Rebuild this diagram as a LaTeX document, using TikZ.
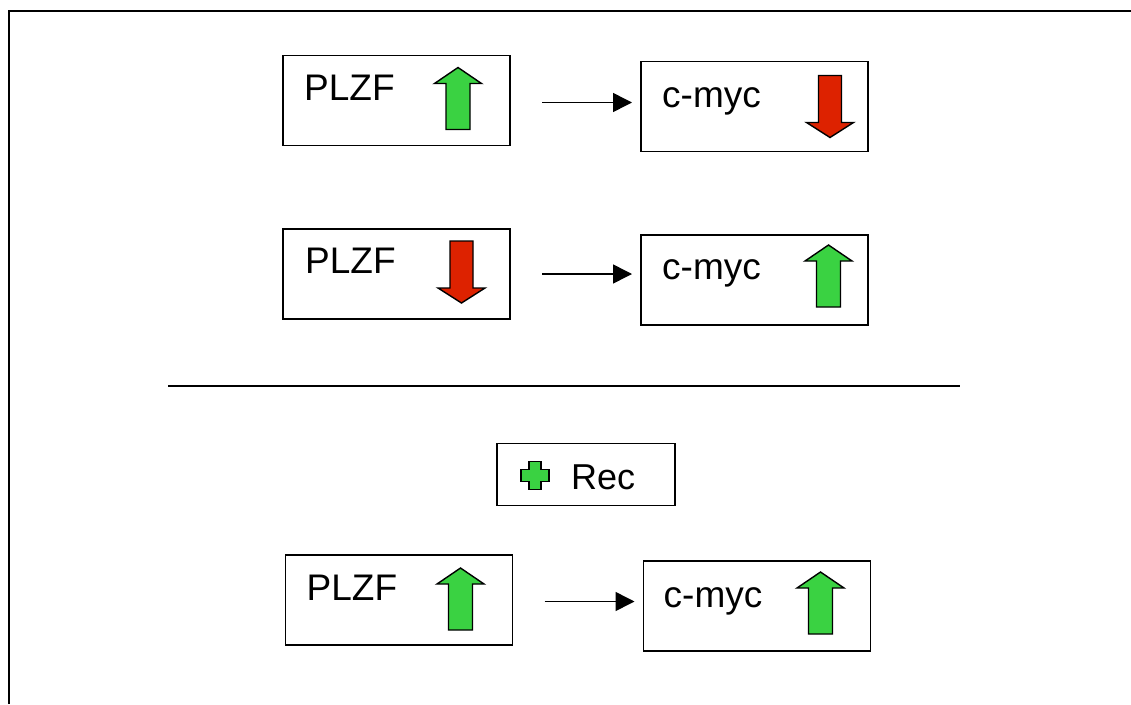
\documentclass[tikz,border=0pt]{standalone}
\usepackage{fontspec}
\setmainfont{Liberation Sans}
\usetikzlibrary{arrows.meta,calc}
\definecolor{upgreen}{RGB}{58,210,66}
\definecolor{downred}{RGB}{221,34,0}
\tikzset{
  box/.style={draw, line width=1.8pt, minimum width=227pt, minimum height=90pt, inner sep=0pt, outer sep=0pt},
  lbl/.style={anchor=base west, inner sep=0pt, font=\fontsize{37}{44}\selectfont},
  conn/.style={line width=1.5pt, -{Triangle[length=19pt,width=19pt]}, shorten <=32pt, shorten >=9pt},
  frame/.style={line width=2pt},
  uparr/.pic={\draw[line width=1.4pt, fill=upgreen, line join=miter]
      (0,0) -- (23.5,16) -- (12,16) -- (12,62) -- (-12,62) -- (-12,16) -- (-23.5,16) -- cycle;},
  downarr/.pic={\draw[line width=1.4pt, fill=downred, line join=miter]
      (-11.5,0) -- (11.5,0) -- (11.5,47) -- (23.5,47) -- (0,62) -- (-23.5,47) -- (-11.5,47) -- cycle;},
  plusarr/.pic={\draw[line width=1.4pt, fill=upgreen, line join=miter]
      (-6,-14) -- (6,-14) -- (6,-6) -- (14,-6) -- (14,6) -- (6,6) -- (6,14) -- (-6,14) -- (-6,6) -- (-14,6) -- (-14,-6) -- (-6,-6) -- cycle;}
}
\begin{document}
\begin{tikzpicture}[x=1pt,y=-1pt]
\useasboundingbox (0,0) rectangle (1131,704);
% outer frame
\draw[frame] (9,704) -- (9,11) -- (1131,11);
% row 1
\node[box] (b1) at (396.5,100.5) {};
\node[box] (b2) at (754.5,106.5) {};
\node[lbl] (t1) at ($(b1.north west)+(21,45)$) {PLZF};
\node[lbl] (t2) at ($(b2.north west)+(21,46)$) {c-myc};
\pic at ($(b1.north west)+(175,12)$) {uparr};
\pic at ($(b2.north west)+(189,14)$) {downarr};
\draw[conn] ([yshift=-2pt]b1.east) -- ([yshift=-2pt]b2.west |- b1.east);
% row 2
\node[box] (b3) at (396.5,274) {};
\node[box] (b4) at (754.5,280) {};
\node[lbl] (t3) at ($(b3.north west)+(22,44)$) {PLZF};
\node[lbl] (t4) at ($(b4.north west)+(21,44)$) {c-myc};
\pic at ($(b3.north west)+(178.5,12)$) {downarr};
\pic at ($(b4.north west)+(187.5,10)$) {uparr};
\draw[conn] (b3.east) -- (b4.west |- b3.east);
% separator
\draw[line width=1.6pt] (168,386) -- (960,386);
% Rec
\node[draw, line width=1.8pt, minimum width=178pt, minimum height=62pt, inner sep=0pt] (rec) at (586,474.5) {};
\pic at (535,475.5) {plusarr};
\node[lbl, font=\fontsize{36}{43}\selectfont] (trec) at (571,489) {Rec};
% row 3
\node[box] (b5) at (399,600) {};
\node[box] (b6) at (757,606) {};
\node[lbl] (t5) at ($(b5.north west)+(21,45)$) {PLZF};
\node[lbl] (t6) at ($(b6.north west)+(20,46)$) {c-myc};
\pic at ($(b5.north west)+(175,13)$) {uparr};
\pic at ($(b6.north west)+(177,11)$) {uparr};
\draw[conn] ([yshift=-1.5pt]b5.east) -- ([yshift=-1.5pt]b6.west |- b5.east);
\end{tikzpicture}
\end{document}
